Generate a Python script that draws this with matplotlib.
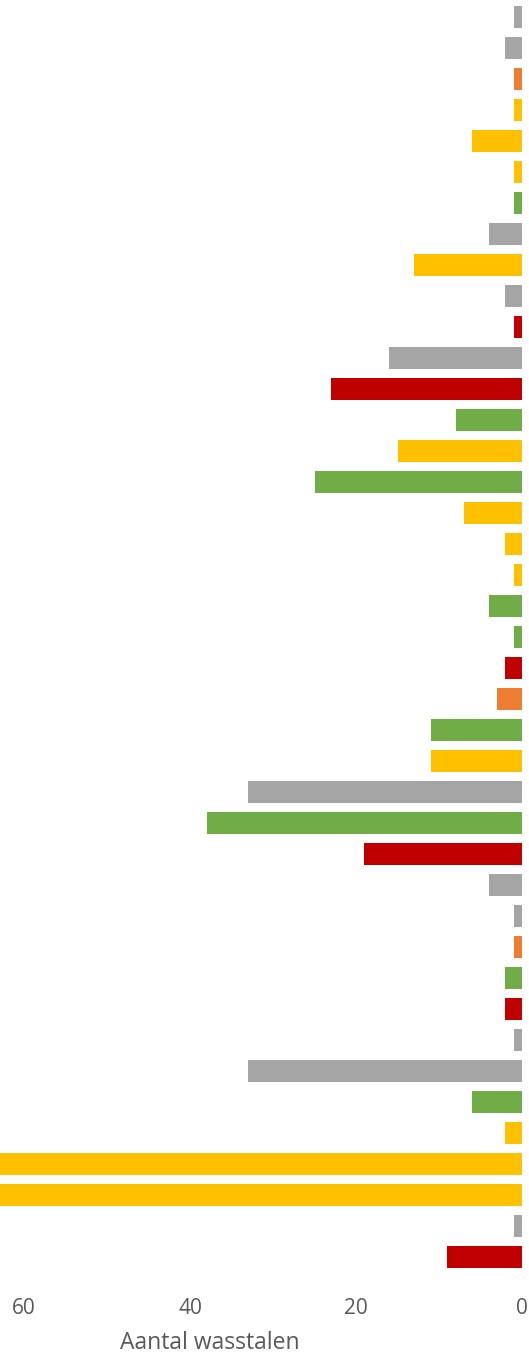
import matplotlib
matplotlib.use("Agg")
import matplotlib.pyplot as plt

# Data (top to bottom)
values = [1, 2, 1, 1, 6, 1, 1, 4, 13, 2, 1, 16, 23, 8, 15, 25, 7, 2, 1, 4, 1, 2,
          3, 11, 11, 33, 38, 19, 4, 1, 1, 2, 2, 1, 33, 6, 2, 65, 65, 1, 9]
groups = ["gray", "gray", "orange", "yellow", "yellow", "yellow", "green", "gray",
          "yellow", "gray", "red", "gray", "red", "green", "yellow", "green",
          "yellow", "yellow", "yellow", "green", "green", "red", "orange", "green",
          "yellow", "gray", "green", "red", "gray", "gray", "orange", "green",
          "red", "gray", "gray", "green", "yellow", "yellow", "yellow", "gray", "red"]
palette = {"gray": "#A5A5A5", "orange": "#ED7D31", "yellow": "#FFC000",
           "green": "#70AD47", "red": "#C00000"}
xticks = [0, 20, 40, 60]
xlabel = "Aantal wasstalen"

W, H = 529, 1358
fig = plt.figure(figsize=(W / 100, H / 100), dpi=100)
top = 1 - 1.5 / H
bottom = 1 - 1272.5 / H
ax = fig.add_axes([0, bottom, 522 / W, top - bottom])
ax_h_px = (top - bottom) * H

n = len(values)
ypos = list(range(n))
ax.barh(ypos, values, height=0.68, color=[palette[g] for g in groups])
ax.set_ylim(n - 0.5, -0.5)
ax.set_xlim(62.9, 0)
ax.set_yticks([])
ax.set_xticks(xticks)
ax.set_xticklabels([str(t) for t in xticks])
for s in ax.spines.values():
    s.set_visible(False)
ax.tick_params(axis="x", length=0, pad=18, labelsize=15, labelcolor="#595959")
for lab in ax.get_xticklabels():
    lab.set_fontfamily("Open Sans")
ax.set_xlabel(xlabel, fontsize=16.5, color="#595959", family="Open Sans",
              va="center")
ax.xaxis.set_label_coords(210 / 522, -70.5 / ax_h_px)

fig.savefig("out.png", dpi=100)
